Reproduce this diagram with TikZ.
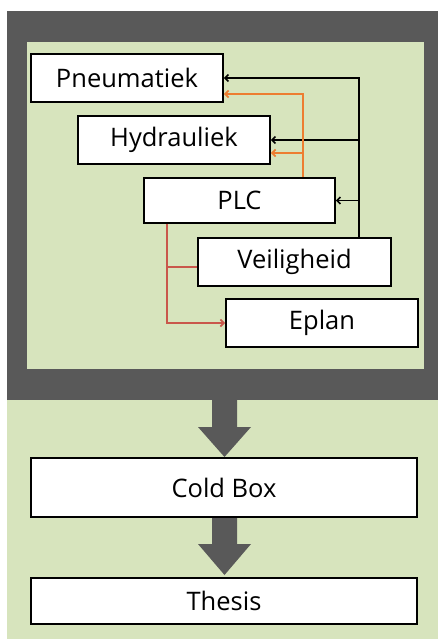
\documentclass[tikz,border=0pt]{standalone}
\usepackage{fontspec}
\setmainfont{Open Sans}
\usetikzlibrary{arrows.meta}
\definecolor{bggreen}{HTML}{D7E4BD}
\definecolor{framegray}{HTML}{595959}
\definecolor{orangeln}{HTML}{ED7D31}
\definecolor{redln}{HTML}{C9574B}
\tikzset{
  box/.style={draw=black, line width=1.8pt, fill=white, inner sep=0pt, font=\fontsize{25.5}{30}\selectfont},
  blk/.style={draw=black, line width=1.5pt, -{Straight Barb[length=3.5pt,width=7pt]}},
  org/.style={draw=orangeln, line width=1.7pt, -{Straight Barb[length=3.5pt,width=7pt]}},
  rdl/.style={draw=redln, line width=1.7pt},
  bigarrow/.style={fill=framegray, draw=none}
}
\begin{document}
\begin{tikzpicture}[x=1pt,y=-1pt]
\useasboundingbox (0,0) rectangle (438,639);
\fill[white] (0,0) rectangle (438,639);
\fill[bggreen] (7,11) rectangle (438,639);
\fill[framegray] (7,11) rectangle (438,400);
\fill[bggreen] (27,42) rectangle (424,369);

\node[box, minimum width=192pt, minimum height=48pt] (pneu) at (127,78) {Pneumatiek};
\node[box, minimum width=192pt, minimum height=48pt] (hyd) at (174,140) {Hydrauliek};
\node[box, minimum width=191pt, minimum height=45pt] (plc) at (239.5,200.5) {PLC};
\node[box, minimum width=193pt, minimum height=48pt] (veil) at (294.5,262) {Veiligheid};
\node[box, minimum width=192pt, minimum height=48pt] (eplan) at (322,323) {Eplan};

% black feedback lines
\coordinate (bx) at (359,0);
\draw[blk] (veil.north -| bx) |- (pneu.east);
\draw[blk] (bx |- hyd.east) -- (hyd.east);
\draw[blk] (bx |- plc.east) -- (plc.east);

% orange lines
\coordinate (ox) at (303,0);
\coordinate (oy1) at (0,94);
\coordinate (oy2) at (0,153);
\draw[org] (plc.north -| ox) -- (ox |- oy1) -- (pneu.east |- oy1);
\draw[org] (ox |- oy2) -- (hyd.east |- oy2);

% red lines
\coordinate (rx) at (167,0);
\coordinate (ry1) at (0,267);
\draw[rdl, -{Straight Barb[length=3.5pt,width=7pt]}] (plc.south -| rx) |- (eplan.west);
\draw[rdl] (rx |- ry1) -- (veil.west |- ry1);

% big arrows
\fill[bigarrow] (212,399) -- (237,399) -- (237,427) -- (251,427) -- (224.5,457) -- (198,427) -- (212,427) -- cycle;
\fill[bigarrow] (212,517) -- (237,517) -- (237,544) -- (251,544) -- (224.5,575) -- (198,544) -- (212,544) -- cycle;
\node[box, minimum width=386pt, minimum height=59pt] (cold) at (224,487.5) {Cold Box};
\node[box, minimum width=386pt, minimum height=46pt] (thesis) at (224,601) {Thesis};
\end{tikzpicture}
\end{document}
